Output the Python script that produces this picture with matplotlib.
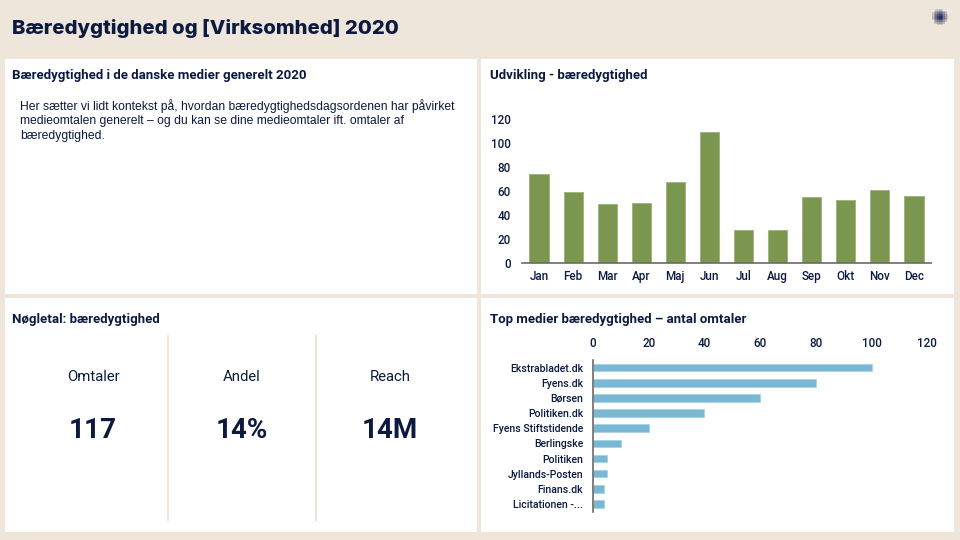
import numpy as np
import matplotlib
matplotlib.use("Agg")
import matplotlib.pyplot as plt
from matplotlib.patches import Rectangle

# data
months = ["Jan", "Feb", "Mar", "Apr", "Maj", "Jun", "Jul", "Aug", "Sep", "Okt", "Nov", "Dec"]
monthly_mentions = [74, 59, 49, 50, 67, 109, 27, 27, 55, 52, 61, 56]

media = ["Ekstrabladet.dk", "Fyens.dk", "Børsen", "Politiken.dk", "Fyens Stiftstidende",
         "Berlingske", "Politiken", "Jyllands-Posten", "Finans.dk", "Licitationen -..."]
media_mentions = [100, 80, 60, 40, 20, 10, 5, 5, 4, 4]

kpi_labels = ["Omtaler", "Andel", "Reach"]
kpi_values = ["117", "14%", "14M"]

BG = "#EEE6DB"
NAVY = "#0C1A40"
GREEN = "#7A964F"
BLUE = "#7AB7D2"

W, H = 960, 540
fig = plt.figure(figsize=(9.6, 5.4), dpi=100)
fig.patch.set_facecolor(BG)

# background axes in pixel coordinates
bg = fig.add_axes([0, 0, 1, 1])
bg.set_xlim(0, W)
bg.set_ylim(H, 0)
bg.axis("off")

panels = [(5, 59, 477, 294), (481, 59, 954, 294), (5, 298, 477, 532), (481, 298, 954, 532)]
for x0, y0, x1, y1 in panels:
    bg.add_patch(Rectangle((x0, y0), x1 - x0, y1 - y0, facecolor="white", edgecolor="none"))

bg.text(12, 28, "Bæredygtighed og [Virksomhed] 2020", fontsize=14.6, fontweight="heavy",
        family=["Inter", "DejaVu Sans"], color=NAVY, va="center", ha="left")

# logo
yy, xx = np.mgrid[-7:8:1.6, -7:8:1.6]
rr = np.sqrt(xx ** 2 + yy ** 2)
mask = rr <= 8
alphas = np.clip(1.1 - rr[mask] / 8, 0.15, 0.9)
cols = [(0.05, 0.1, 0.3, a) for a in alphas]
bg.scatter(940 + xx[mask], 17 + yy[mask], s=1.2, marker="s", c=cols, linewidths=0)

title_kw = dict(fontsize=9.5, fontweight="bold", family="Roboto", color=NAVY, va="center", ha="left")
bg.text(12, 76, "Bæredygtighed i de danske medier generelt 2020", **title_kw)
bg.text(490, 76, "Udvikling - bæredygtighed", **title_kw)
bg.text(12, 319, "Nøgletal: bæredygtighed", **title_kw)
bg.text(490, 319, "Top medier bæredygtighed – antal omtaler", **title_kw)

body = ["Her sætter vi lidt kontekst på, hvordan bæredygtighedsdagsordenen har påvirket",
        "medieomtalen generelt – og du kan se dine medieomtaler ift. omtaler af",
        "bæredygtighed."]
for i, line in enumerate(body):
    bg.text(20, 106 + i * 15, line, fontsize=8.7, family="Liberation Sans", color=NAVY,
            va="center", ha="left")

# KPI panel
for xd in [168, 316]:
    bg.plot([xd, xd], [336, 520], color=BG, lw=1.5)
kpi_x = [93, 242, 390]
for x, lab, val in zip(kpi_x, kpi_labels, kpi_values):
    bg.text(x, 377, lab, fontsize=10.7, family="Roboto", color=NAVY, ha="center", va="center")
    bg.text(x, 430, val, fontsize=20, fontweight="bold", family="Roboto", color=NAVY,
            ha="center", va="center")


def px_axes(x0, y0, x1, y1):
    return fig.add_axes([x0 / W, (H - y1) / H, (x1 - x0) / W, (y1 - y0) / H])


# monthly bar chart
ax1 = px_axes(522, 119, 931, 262.7)
ax1.bar(range(len(months)), monthly_mentions, width=0.56, color=GREEN,
        edgecolor="#9CB37A", linewidth=0.6)
ax1.set_xlim(-0.5, len(months) - 0.5)
ax1.set_ylim(0, 120)
ax1.set_yticks(range(0, 121, 20))
ax1.set_xticks(range(len(months)))
ax1.set_xticklabels(months)
for s in ["top", "right", "left"]:
    ax1.spines[s].set_visible(False)
ax1.spines["bottom"].set_color("#6B6B6B")
ax1.spines["bottom"].set_linewidth(1.2)
ax1.tick_params(axis="both", length=0, labelsize=8.4, labelcolor=NAVY)
ax1.tick_params(axis="x", pad=5.5)
ax1.tick_params(axis="y", pad=8)
ax1.patch.set_alpha(0)
for lab in ax1.get_xticklabels() + ax1.get_yticklabels():
    lab.set_family("Roboto")
    lab.set_fontweight("medium")

# top media horizontal bars
ax2 = px_axes(593, 360, 927.3, 511.6)
ax2.barh(range(len(media)), media_mentions, height=0.5, color=BLUE,
         edgecolor="#A9D2E4", linewidth=0.6)
ax2.set_ylim(len(media) - 0.5, -0.5)
ax2.set_xlim(0, 120)
ax2.set_xticks(range(0, 121, 20))
ax2.set_yticks(range(len(media)))
ax2.set_yticklabels(media)
ax2.xaxis.tick_top()
for s in ["top", "right", "bottom"]:
    ax2.spines[s].set_visible(False)
ax2.spines["left"].set_color("#6B6B6B")
ax2.spines["left"].set_linewidth(1.2)
ax2.tick_params(axis="x", length=0, labelsize=8.4, labelcolor=NAVY, pad=7)
ax2.tick_params(axis="y", length=0, labelsize=7.6, labelcolor=NAVY, pad=7)
ax2.patch.set_alpha(0)
for lab in ax2.get_xticklabels() + ax2.get_yticklabels():
    lab.set_family("Roboto")
    lab.set_fontweight("medium")

fig.savefig("out.png", dpi=100, facecolor=BG)
